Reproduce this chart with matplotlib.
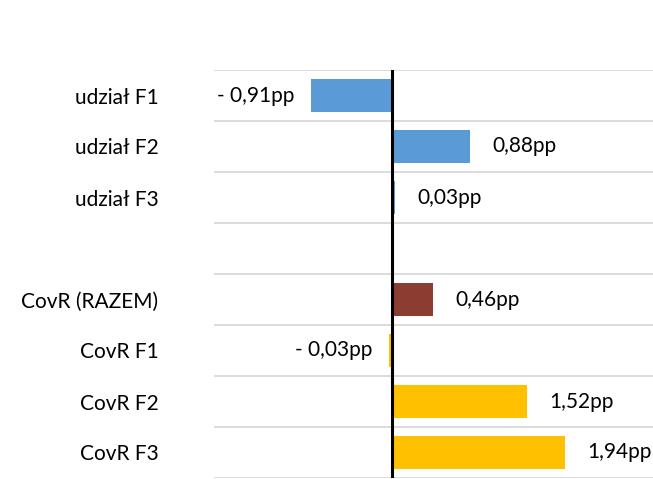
import numpy as np
import matplotlib.pyplot as plt

plt.rcParams['font.family'] = ['Lato', 'DejaVu Sans']

categories = ['udział F1', 'udział F2', 'udział F3', '',
              'CovR (RAZEM)', 'CovR F1', 'CovR F2', 'CovR F3']
values = [-0.91, 0.88, 0.03, np.nan, 0.46, -0.03, 1.52, 1.94]
colors = ['#5B9BD5', '#5B9BD5', '#5B9BD5', '#FFFFFF',
          '#8B3D31', '#FFC000', '#FFC000', '#FFC000']


def fmt(v):
    s = f"{abs(v):.2f}".replace('.', ',') + 'pp'
    return '- ' + s if v < 0 else s


W, H = 653, 479
fig = plt.figure(figsize=(W / 100, H / 100), dpi=100)
ax = fig.add_axes([214 / W, 1 / H, (659 - 214) / W, (478 - 70) / H])

y = np.arange(len(categories))
ax.barh(y, values, height=0.66, color=colors, zorder=2)

ax.set_xlim(-2, 3)
ax.set_ylim(len(categories) - 0.5, -0.5)

# gridlines between categories
ax.set_yticks(y)
ax.set_yticklabels(categories, fontsize=15)
ax.set_yticks(np.arange(len(categories) + 1) - 0.5, minor=True)
ax.grid(True, which='minor', axis='y', color='#D9D9D9', linewidth=1.3, zorder=0)
ax.tick_params(axis='y', which='both', length=0, pad=40)
ax.set_xticks([])
for sp in ax.spines.values():
    sp.set_visible(False)

ax.axvline(0, color='black', linewidth=2.2, zorder=3)

for yi, v in zip(y, values):
    if np.isnan(v):
        continue
    if v >= 0:
        ax.annotate(fmt(v), (v, yi), xytext=(16, 0), textcoords='offset points',
                    ha='left', va='center', fontsize=15)
    else:
        ax.annotate(fmt(v), (v, yi), xytext=(-12, 0), textcoords='offset points',
                    ha='right', va='center', fontsize=15)

fig.savefig('out.png', dpi=100)
